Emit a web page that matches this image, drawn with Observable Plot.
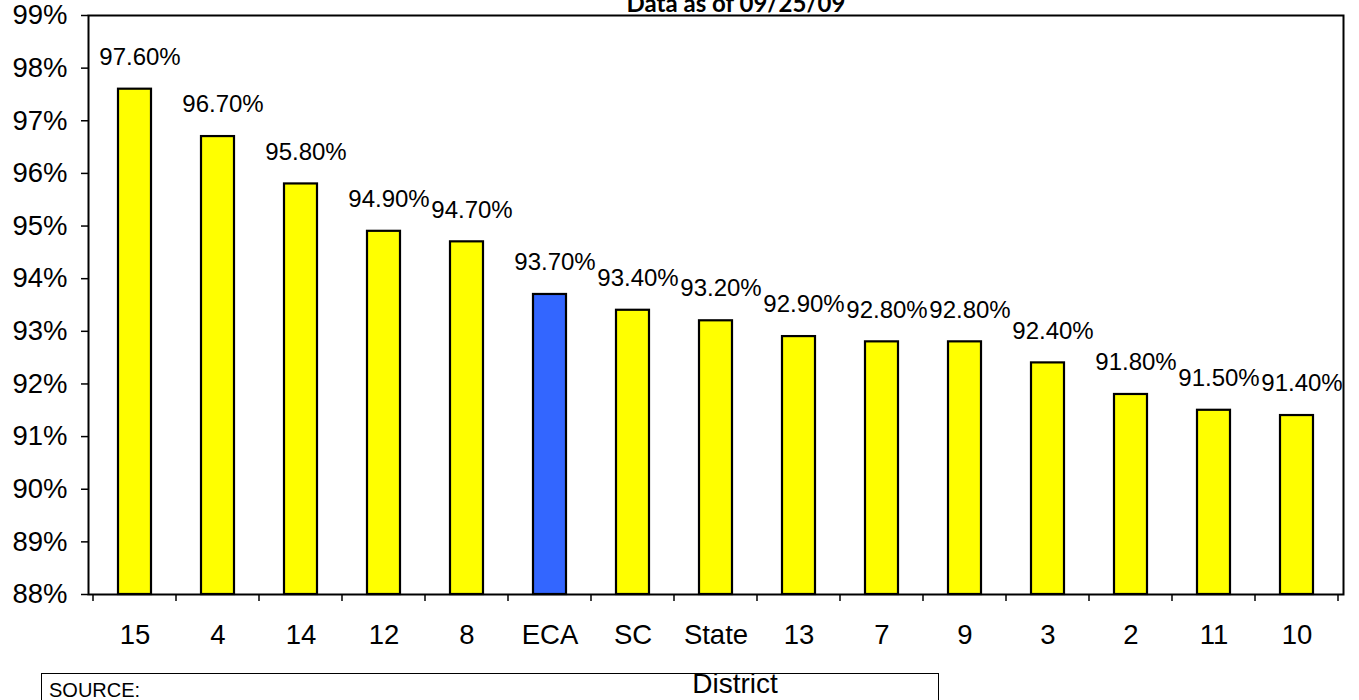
<!DOCTYPE html>
<html>
<head>
<meta charset="utf-8">
<script src="https://cdn.jsdelivr.net/npm/d3@7"></script>
<script src="https://cdn.jsdelivr.net/npm/@observablehq/plot@0.6"></script>
<style>
  html, body { margin: 0; padding: 0; background: #fff; overflow: hidden; }
  #wrap { position: relative; width: 1359px; height: 700px; overflow: hidden; font-family: "Liberation Sans", Arial, sans-serif; }
  #title { position: absolute; left: 536px; width: 400px; top: -9px; text-align: center; font-family: Lato, "Open Sans", sans-serif; font-weight: 700; font-size: 24px; line-height: 24px; color: #000; z-index: 2; }
  #chart { position: absolute; left: 0; top: 0; z-index: 1; }
  #source { position: absolute; left: 41px; top: 673px; width: 896px; height: 40px; border: 1.5px solid #000; background: #fff; z-index: 0; }
  #source span { position: absolute; left: 7px; top: 6px; font-size: 20px; line-height: 20px; }
  #xlabel { position: absolute; left: 635px; width: 200px; top: 669px; text-align: center; font-size: 28px; line-height: 30px; z-index: 2; }
</style>
</head>
<body>
<div id="wrap">
  <div id="source"><span>SOURCE:</span></div>
  <div id="title">Data as of 09/25/09</div>
  <div id="chart"></div>
  <div id="xlabel">District</div>
</div>
<script>
// ---- data ----
const districts = ["15", "4", "14", "12", "8", "ECA", "SC", "State", "13", "7", "9", "3", "2", "11", "10"];
const rates = [97.6, 96.7, 95.8, 94.9, 94.7, 93.7, 93.4, 93.2, 92.9, 92.8, 92.8, 92.4, 91.8, 91.5, 91.4];
const highlighted = ["ECA"];
const yTicks = [88, 89, 90, 91, 92, 93, 94, 95, 96, 97, 98, 99];

// ---- build ----
const data = districts.map((d, i) => ({district: d, rate: rates[i]}));
const yDomain = [yTicks[0], yTicks[yTicks.length - 1]];

const chart = Plot.plot({
  width: 1359,
  height: 700,
  marginLeft: 88,
  marginRight: 16,
  marginTop: 15,
  marginBottom: 106,
  style: {fontFamily: "'Liberation Sans', Arial, sans-serif", fontSize: "27px", background: "transparent", color: "#000"},
  x: {domain: districts, paddingInner: 0.6, paddingOuter: 0.3, label: null},
  y: {domain: yDomain, label: null},
  marks: [
    Plot.axisY({ticks: yTicks, tickSize: 7, tickPadding: 14, tickFormat: d => d + "%", fontSize: 27.5, strokeWidth: 1.5, label: null}),
    Plot.axisX({tickSize: 0, tickPadding: 29.5, fontSize: 27.5, label: null}),
    Plot.barY(data, {
      x: "district",
      y1: () => yDomain[0],
      y2: "rate",
      fill: d => highlighted.includes(d.district) ? "#3366ff" : "#ffff00",
      stroke: "#000",
      strokeWidth: 2.2
    }),
    Plot.text(data, {
      x: "district",
      y: "rate",
      text: d => d.rate.toFixed(2) + "%",
      dy: -32,
      dx: 5,
      fontSize: 24,
      fill: "#000"
    }),
    Plot.frame({stroke: "#000", strokeWidth: 2})
  ]
});

document.getElementById("chart").appendChild(chart);

// tick marks on the category boundaries, from the band scale
const xs = chart.scale("x");
const gap = (xs.step - xs.bandwidth) / 2;
const bounds = districts.map(d => xs.apply(d) - gap);
bounds.push(xs.apply(districts[districts.length - 1]) + xs.bandwidth + gap);
const yBase = chart.scale("y").apply(yDomain[0]);
d3.select(chart).append("g")
  .attr("stroke", "#000")
  .attr("stroke-width", 1.5)
  .selectAll("line")
  .data(bounds)
  .join("line")
  .attr("x1", d => d).attr("x2", d => d)
  .attr("y1", yBase).attr("y2", yBase + 7);
</script>
</body>
</html>
